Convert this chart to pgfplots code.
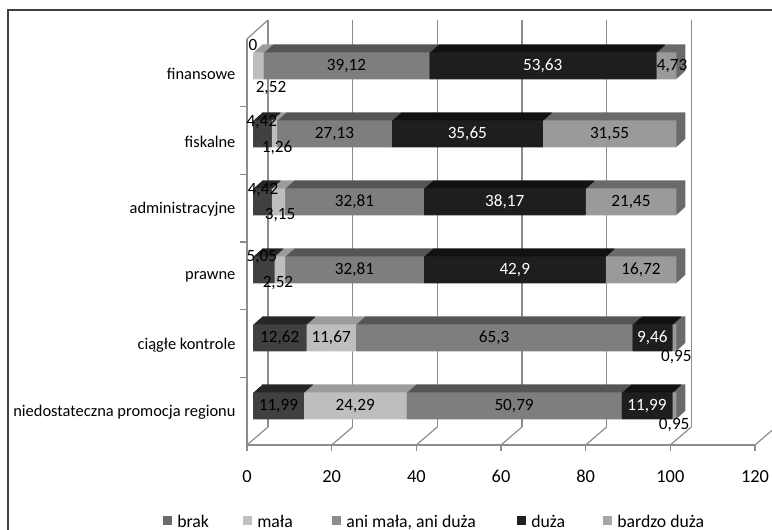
\documentclass[border=0pt]{standalone}
\usepackage{fontspec}
\setmainfont{Carlito}
\usepackage{pgfplots}
\usepackage{pgfplotstable}
\pgfplotsset{compat=1.18}

% front faces
\definecolor{brakF}{HTML}{404040}
\definecolor{malaF}{HTML}{BEBEBE}
\definecolor{aniF}{HTML}{7E7E7E}
\definecolor{duzaF}{HTML}{1E1E1E}
\definecolor{bardzoF}{HTML}{9A9A9A}
% top faces
\definecolor{brakT}{HTML}{262626}
\definecolor{malaT}{HTML}{9C9C9C}
\definecolor{aniT}{HTML}{555555}
\definecolor{duzaT}{HTML}{111111}
\definecolor{bardzoT}{HTML}{6A6A6A}
% legend
\definecolor{brakL}{HTML}{6B6B6B}
\definecolor{malaL}{HTML}{C0C0C0}
\definecolor{aniL}{HTML}{8C8C8C}
\definecolor{duzaL}{HTML}{231F20}
\definecolor{bardzoL}{HTML}{A6A6A6}
\definecolor{gridc}{HTML}{8C8C8C}
\definecolor{framec}{HTML}{404040}

\pgfplotstableread{
y   brak  mala  ani   duza  bardzo
5.5 0     2.52  39.12 53.63 4.73
4.5 4.42  1.26  27.13 35.65 31.55
3.5 4.42  3.15  32.81 38.17 21.45
2.5 5.05  2.52  32.81 42.9  16.72
1.5 12.62 11.67 65.3  9.46  0.95
0.5 11.99 24.29 50.79 11.99 0.95
}\dane

% value labels, dark text
\pgfplotstableread{
x      y    t
0      5.81 0
4.25   5.18 2,52
22.08  5.5  39,12
99.0   5.5  4,73
2.1    4.68 4,42
5.7    4.29 1,26
19.245 4.5  27,13
84.235 4.5  31,55
2.4    3.68 4,42
6.4    3.31 3,15
23.975 3.5  32,81
89.275 3.5  21,45
2.1    2.69 5,05
5.9    2.31 2,52
23.975 2.5  32,81
91.64  2.5  16,72
6.31   1.5  12,62
18.455 1.5  11,67
56.94  1.5  65,3
100.0  1.22 0,95
5.995  0.5  11,99
24.135 0.5  24,29
61.675 0.5  50,79
99.5   0.22 0,95
}\etyC

% value labels, white text
\pgfplotstableread{
x      y   t
68.455 5.5 53,63
50.635 4.5 35,65
59.465 3.5 38,17
61.83  2.5 42,9
94.32  1.5 9,46
93.065 0.5 11,99
}\etyB

\pgfplotsset{
  bary/.style={scale only axis, width=381pt, height=306pt,
    xmin=0, xmax=120, ymin=0, ymax=6, hide axis, clip=false,
    anchor=south west},
}

\begin{document}
\begin{tikzpicture}
\useasboundingbox (0,0) rectangle (579pt,397.5pt);

% outer frame
\draw[framec, line width=0.8pt] (6pt,-2pt) -- (6pt,390pt) -- (590pt,390pt);

% back wall with gridlines
\begin{axis}[scale only axis, width=381pt, height=305.25pt,
    at={(201pt,77.25pt)}, anchor=south west,
    xmin=0, xmax=120, ymin=0, ymax=1,
    axis line style={draw=none}, ytick=\empty,
    xtick={0,20,...,100}, xticklabels={}, major tick length=0pt,
    xmajorgrids, grid style={gridc, line width=0.9pt}]
  \addplot[draw=none] coordinates {(0,0)};
\end{axis}

% floor and left wall edges
\foreach \v in {0,20,...,120}
  \draw[gridc, line width=0.9pt] ({185.25pt+3.175pt*\v},63.75pt) -- ({201pt+3.175pt*\v},77.25pt);
\draw[gridc, line width=0.9pt] (185.25pt,368.25pt) -- (201pt,382.5pt);

% front axis: category names, value scale
\begin{axis}[scale only axis, width=381pt, height=304.5pt,
    at={(185.25pt,63.75pt)}, anchor=south west,
    xmin=0, xmax=120, ymin=0, ymax=6,
    axis x line*=bottom, axis y line*=left,
    axis line style={gridc, line width=0.9pt},
    tick align=outside,
    xtick={0,20,...,120},
    /pgf/number format/assume math mode=true,
    x tick style={gridc, line width=0.9pt},
    major tick length=4.5pt,
    xticklabel style={font=\fontsize{13.8}{16}\selectfont, anchor=center, yshift=-19pt},
    ytick={0.5,1.5,...,5.5},
    yticklabels={niedostateczna promocja regionu, ciągłe kontrole\hspace{4.5pt}, prawne,
                 administracyjne, fiskalne, finansowe},
    yticklabel style={font=\fontsize{12.3}{14}\selectfont, anchor=east, inner sep=0pt, xshift=-4pt, yshift=-1pt},
    major y tick style={draw=none},
    minor ytick={1,2,3,4,5},
    minor y tick style={gridc, line width=0.9pt},
    minor tick length=5.25pt]
  \addplot[draw=none] coordinates {(0,0)};
\end{axis}

% depth of the bars: shifted copies in the top-face colours
\foreach \s in {9,8,...,1}{
\begin{axis}[bary, at={({189.75pt+0.75pt*\s},{67.5pt+0.6667pt*\s})},
    xbar stacked, bar width=20.25pt]
  \addplot[fill=brakT, draw=none] table[x=brak, y=y] {\dane};
  \addplot[fill=malaT, draw=none] table[x=mala, y=y] {\dane};
  \addplot[fill=aniT, draw=none] table[x=ani, y=y] {\dane};
  \addplot[fill=duzaT, draw=none] table[x=duza, y=y] {\dane};
  \addplot[fill=bardzoT, draw=none] table[x=bardzo, y=y] {\dane};
\end{axis}
}

% front faces of the bars
\begin{axis}[bary, at={(189.75pt,67.5pt)}, xbar stacked, bar width=20.25pt]
  \addplot[fill=brakF, draw=none] table[x=brak, y=y] {\dane};
  \addplot[fill=malaF, draw=none] table[x=mala, y=y] {\dane};
  \addplot[fill=aniF, draw=none] table[x=ani, y=y] {\dane};
  \addplot[fill=duzaF, draw=none] table[x=duza, y=y] {\dane};
  \addplot[fill=bardzoF, draw=none] table[x=bardzo, y=y] {\dane};
\end{axis}

% value labels
\begin{axis}[bary, at={(189.75pt,67.5pt)}]
  \addplot[only marks, mark=none, nodes near coords, point meta=explicit symbolic,
    nodes near coords align=center,
    every node near coord/.append style={font=\fontsize{12.9}{14}\selectfont, text=black, inner sep=0pt}]
    table[x=x, y=y, meta=t] {\etyC};
  \addplot[only marks, mark=none, nodes near coords, point meta=explicit symbolic,
    nodes near coords align=center,
    every node near coord/.append style={font=\fontsize{12.9}{14}\selectfont, text=white, inner sep=0pt}]
    table[x=x, y=y, meta=t] {\etyB};
\end{axis}

% legend
\foreach \xm/\c/\t in {163/brakL/brak, 243/malaL/mała, 332/aniL/{ani mała, ani duża},
                       517/duzaL/duża, 603/bardzoL/bardzo duża}{
  \fill[\c] ({0.75pt*\xm},4pt) rectangle ({0.75pt*(\xm+9)},10.75pt);
  \node[anchor=base west, inner sep=0pt, font=\fontsize{13.3}{15}\selectfont]
    at ({0.75pt*(\xm+14)},2.2pt) {\t};
}
\end{tikzpicture}
\end{document}
